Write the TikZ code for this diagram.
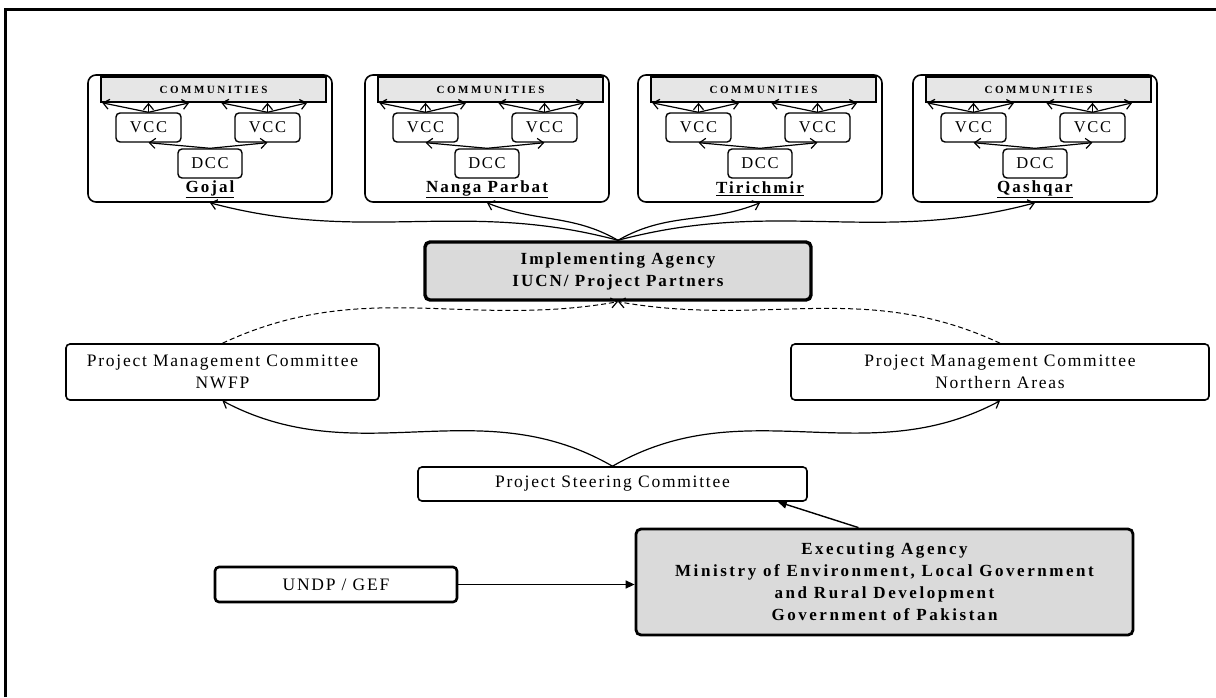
\documentclass[tikz,border=0pt]{standalone}
\usepackage{fontspec}
\setmainfont{Liberation Serif}
\newfontfamily\tracked[LetterSpace=10]{Liberation Serif}
\newfontfamily\trackedbf[LetterSpace=12]{Liberation Serif}
\newfontfamily\widebf[LetterSpace=15]{Liberation Serif}
\newfontfamily\commfont[LetterSpace=23]{Liberation Serif}
\usetikzlibrary{arrows.meta,positioning,calc}
\definecolor{BarGray}{HTML}{E6E6E6}
\definecolor{AgencyGray}{HTML}{DADADA}

\begin{document}
\begin{tikzpicture}[x=1pt,y=1pt]
    \tikzset{regionbox/.style={draw,line width=1.6pt,rounded corners=8pt,inner sep=0pt,
      minimum width=244pt,minimum height=127pt},
      commbar/.style={draw,line width=1.6pt,fill=BarGray,inner sep=0pt,
      minimum width=225pt,minimum height=25pt,font={\commfont\bfseries\fontsize{11}{13}\selectfont}},
      villagebox/.style={draw,line width=1.4pt,rounded corners=4pt,fill=white,inner sep=0pt,
      minimum width=65pt,minimum height=29pt,font={\tracked\fontsize{16.5}{18}\selectfont}},
      placelabel/.style={inner sep=0pt,font={\trackedbf\bfseries\fontsize{17}{20}\selectfont}},
      committeebox/.style={draw,line width=1.6pt,rounded corners=4pt,align=center,inner sep=0pt,
      font={\tracked\fontsize{17.5}{22}\selectfont}},
      agencybox/.style={draw,line width=3.4pt,rounded corners=5pt,fill=AgencyGray,align=center,inner sep=0pt,
      font={\trackedbf\bfseries\fontsize{17}{22}\selectfont}},
      barb/.style={-{Straight Barb[length=6pt,width=10pt,line width=1.2pt]},line width=1.2pt},
      pointer/.style={-{Triangle[length=9pt,width=8pt]},line width=1.4pt}}
    \path[use as bounding box] (0,0) rectangle (1216,-697);
    \draw[line width=3pt] (5,-697) -- (5,-9) -- (1216,-9);
    % the four regions
    \foreach \L/\place/\i in {88/Gojal/1,365/Nanga Parbat/2,638/Tirichmir/3,913/Qashqar/4}{
      \node[regionbox] (rg\i) at (\L+122,-138.5) {};
      \node[commbar] (cm\i) at (\L+125.5,-89.5) {COMMUNITIES};
      \node[villagebox] (vl\i) at (\L+60.5,-127.5) {VCC};
      \node[villagebox] (vr\i) at (\L+179.5,-127.5) {VCC};
      \node[villagebox,minimum width=64pt] (dc\i) at (\L+122,-163.5) {DCC};
      \node[placelabel] (pl\i) at (\L+122,-189) {\underline{\place}};
      \draw[barb] (vl\i.north) -- ([xshift=2pt]cm\i.south west);
      \draw[barb] (vl\i.north) -- (vl\i.north |- cm\i.south);
      \draw[barb] (vl\i.north) -- ([xshift=89pt]cm\i.south west);
      \draw[barb] (vr\i.north) -- ([xshift=121pt]cm\i.south west);
      \draw[barb] (vr\i.north) -- (vr\i.north |- cm\i.south);
      \draw[barb] (vr\i.north) -- ([xshift=207pt]cm\i.south west);
      \draw[barb] (dc\i.north) -- (vl\i.south);
      \draw[barb] (dc\i.north) -- (vr\i.south);
    }
    \node[agencybox,minimum width=386pt,minimum height=58pt] (ia) at (618,-271)
      {Implementing Agency\\IUCN/ Project Partners};
    \node[committeebox,minimum width=313pt,minimum height=56pt] (pn) at (222.5,-372)
      {Project Management Committee\\NWFP};
    \node[committeebox,minimum width=418pt,minimum height=56pt] (pa) at (1000,-372)
      {Project Management Committee\\Northern Areas};
    \node[committeebox,minimum width=389pt,minimum height=34pt] (psc) at (612.5,-484)
      {Project Steering Committee};
    \node[committeebox,line width=2.6pt,minimum width=242pt,minimum height=35pt] (undp) at (336,-584.5)
      {UNDP / GEF};
    \node[agencybox,line width=2.8pt,minimum width=497pt,minimum height=106pt,
      font={\widebf\bfseries\fontsize{17}{22}\selectfont}] (ea) at (884.5,-582)
      {Executing Agency\\Ministry of Environment, Local Government\\and Rural Development\\Government of Pakistan};
    % links
    \draw[barb] (ia.north) to[out=165,in=-15] (rg1.south);
    \draw[barb] (ia.north) to[out=150,in=-22] (rg2.south);
    \draw[barb] (ia.north) to[out=30,in=-158] (rg3.south);
    \draw[barb] (ia.north) to[out=15,in=-165] (rg4.south);
    \draw[barb,dash pattern=on 5pt off 3pt,line width=1pt] (pn.north) to[out=25,in=190] (ia.south);
    \draw[barb,dash pattern=on 5pt off 3pt,line width=1pt] (pa.north) to[out=155,in=-10] (ia.south);
    \draw[barb] (psc.north) to[out=150,in=-28] (pn.south);
    \draw[barb] (psc.north) to[out=30,in=-152] (pa.south);
    \draw[pointer] ([xshift=-26pt]ea.north) -- ([xshift=-30pt]psc.south east);
    \draw[pointer] (undp.east) -- (undp.east -| ea.west);
  \end{tikzpicture}
\end{document}
